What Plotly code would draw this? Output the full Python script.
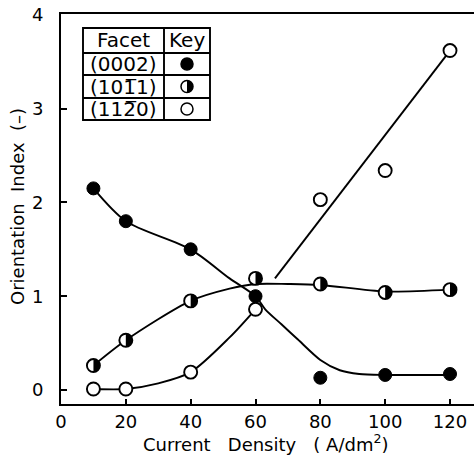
import plotly.graph_objects as go

# Measured orientation index vs. current density
current_density = [10, 20, 40, 60, 80, 100, 120]
oi_0002 = [2.15, 1.80, 1.50, 1.00, 0.13, 0.16, 0.17]
oi_1011 = [0.26, 0.53, 0.95, 1.19, 1.13, 1.04, 1.07]
oi_1120 = [0.01, 0.01, 0.19, 0.86, 2.03, 2.34, 3.62]

# Hand-fitted trend curves
fit_0002_x = [10, 20, 40, 52, 60, 63, 68, 73, 80, 86, 92, 100, 120]
fit_0002_y = [2.15, 1.80, 1.50, 1.19, 1.00, 0.86, 0.70, 0.54, 0.32, 0.21, 0.17, 0.16, 0.16]
fit_1011_x = [10, 20, 40, 52, 60, 70, 80, 100, 120]
fit_1011_y = [0.26, 0.53, 0.95, 1.08, 1.13, 1.13, 1.12, 1.05, 1.07]
fit_1120_x = [10, 20, 30, 40, 52, 60]
fit_1120_y = [0.01, 0.01, 0.07, 0.19, 0.56, 0.86]
lin_1120_x = [66, 120]
lin_1120_y = [1.19, 3.62]

x_ticks = [0, 20, 40, 60, 80, 100, 120]
y_ticks = [0, 1, 2, 3, 4]
facets = ["(0002)", "(101\u03051)", "(112\u03050)"]

FONT = "DejaVu Sans"
W, H = 474, 460
ML, MR, MT, MB = 61, 0, 14, 56
PW, PH = W - ML - MR, H - MT - MB
MS = 13  # marker diameter, px


def px(xp):
    return (xp - ML) / PW


def py(yp):
    return (H - MB - yp) / PH


fig = go.Figure()

line_style = dict(color="black", width=1.9)
for fx, fy in [(fit_0002_x, fit_0002_y), (fit_1011_x, fit_1011_y), (fit_1120_x, fit_1120_y)]:
    fig.add_trace(go.Scatter(x=fx, y=fy, mode="lines", line=dict(shape="spline", smoothing=0.8, **line_style),
                             hoverinfo="skip", showlegend=False))
fig.add_trace(go.Scatter(x=lin_1120_x, y=lin_1120_y, mode="lines", line=line_style,
                         hoverinfo="skip", showlegend=False))

open_marker = dict(symbol="circle", size=MS, color="white", line=dict(color="black", width=1.9))
fig.add_trace(go.Scatter(x=current_density, y=oi_1120, mode="markers", marker=open_marker,
                         name=facets[2], showlegend=False))
fig.add_trace(go.Scatter(x=current_density, y=oi_1011, mode="markers", marker=open_marker,
                         name=facets[1], showlegend=False))
fig.add_trace(go.Scatter(x=current_density, y=oi_0002, mode="markers",
                         marker=dict(symbol="circle", size=MS, color="black", line=dict(color="black", width=1)),
                         name=facets[0], showlegend=False))

# right half filled disk, in pixels about its anchor
r = MS / 2
k = 0.5523 * r
half_path = f"M0,{r} C{k},{r} {r},{k} {r},0 C{r},{-k} {k},{-r} 0,{-r} Z"

shapes = []
for xv, yv in zip(current_density, oi_1011):
    shapes.append(dict(type="path", xref="x", yref="y", xsizemode="pixel", ysizemode="pixel",
                       xanchor=xv, yanchor=yv, path=half_path, fillcolor="black", line=dict(width=0)))

# Key table
tab_x = [83, 164, 210]
tab_y = [28, 53, 75, 98, 120]
tl = dict(color="black", width=1.9)
shapes.append(dict(type="rect", xref="paper", yref="paper", x0=px(tab_x[0]), x1=px(tab_x[2]),
                   y0=py(tab_y[-1]), y1=py(tab_y[0]), line=tl, fillcolor="white", layer="above"))
for yy in tab_y[1:-1]:
    shapes.append(dict(type="line", xref="paper", yref="paper", x0=px(tab_x[0]), x1=px(tab_x[2]),
                       y0=py(yy), y1=py(yy), line=tl))
shapes.append(dict(type="line", xref="paper", yref="paper", x0=px(tab_x[1]), x1=px(tab_x[1]),
                   y0=py(tab_y[0]), y1=py(tab_y[-1]), line=tl))

key_cx = px((tab_x[1] + tab_x[2]) / 2)
rk = 6
circle_kw = dict(type="circle", xref="paper", yref="paper", xsizemode="pixel", ysizemode="pixel",
                 x0=-rk, x1=rk, y0=-rk, y1=rk)
row_c = [(tab_y[i] + tab_y[i + 1]) / 2 for i in range(1, 4)]
shapes.append(dict(xanchor=key_cx, yanchor=py(row_c[0]), fillcolor="black", line=dict(color="black", width=1.5), **circle_kw))
shapes.append(dict(xanchor=key_cx, yanchor=py(row_c[1]), fillcolor="white", line=dict(color="black", width=1.5), **circle_kw))
k2 = 0.5523 * rk
shapes.append(dict(type="path", xref="paper", yref="paper", xsizemode="pixel", ysizemode="pixel",
                   xanchor=key_cx, yanchor=py(row_c[1]),
                   path=f"M0,{rk} C{k2},{rk} {rk},{k2} {rk},0 C{rk},{-k2} {k2},{-rk} 0,{-rk} Z",
                   fillcolor="black", line=dict(width=0)))
shapes.append(dict(xanchor=key_cx, yanchor=py(row_c[2]), fillcolor="white", line=dict(color="black", width=1.5), **circle_kw))

annotations = []
txt_font = dict(family=FONT, size=20, color="black")
annotations.append(dict(text="Facet", x=px((tab_x[0] + tab_x[1]) / 2), y=py((tab_y[0] + tab_y[1]) / 2),
                        xref="paper", yref="paper", showarrow=False, font=txt_font, xanchor="center", yanchor="middle"))
annotations.append(dict(text="Key", x=key_cx, y=py((tab_y[0] + tab_y[1]) / 2),
                        xref="paper", yref="paper", showarrow=False, font=txt_font, xanchor="center", yanchor="middle"))
for lab, yc in zip(facets, row_c):
    annotations.append(dict(text=lab, x=px((tab_x[0] + tab_x[1]) / 2), y=py(yc), xref="paper", yref="paper",
                            showarrow=False, font=txt_font, xanchor="center", yanchor="middle"))

# axis titles
annotations.append(dict(text="Current\u00a0\u00a0\u00a0Density\u00a0\u00a0\u00a0(\u00a0A/dm<sup>2</sup>)", x=px(266), y=py(443),
                        xref="paper", yref="paper", showarrow=False, xanchor="center", yanchor="middle",
                        font=dict(family=FONT, size=18, color="black")))
annotations.append(dict(text="Orientation\u00a0\u00a0Index\u00a0\u00a0(\u2013)", x=px(17), y=py(207), textangle=-90,
                        xref="paper", yref="paper", showarrow=False, xanchor="center", yanchor="middle",
                        font=dict(family=FONT, size=18, color="black")))

fig.update_layout(
    width=W, height=H,
    margin=dict(l=ML, r=MR, t=MT, b=MB, pad=0),
    paper_bgcolor="white", plot_bgcolor="white",
    shapes=shapes, annotations=annotations,
    xaxis=dict(range=[0, 127.4], tickvals=x_ticks, ticktext=[str(v) for v in x_ticks],
               showgrid=False, zeroline=False, showline=True, linecolor="black", linewidth=2,
               mirror=True, ticks="inside", ticklen=5, tickwidth=1.5, tickcolor="black",
               tickfont=dict(family=FONT, size=18, color="black")),
    yaxis=dict(range=[-0.15, 4.01], tickvals=y_ticks, ticktext=[str(v) for v in y_ticks],
               showgrid=False, zeroline=False, showline=True, linecolor="black", linewidth=2,
               ticks="inside", ticklen=6, tickwidth=1.5, tickcolor="black", ticklabelstandoff=12,
               tickfont=dict(family=FONT, size=18, color="black")),
)

fig.write_html("out.html")
